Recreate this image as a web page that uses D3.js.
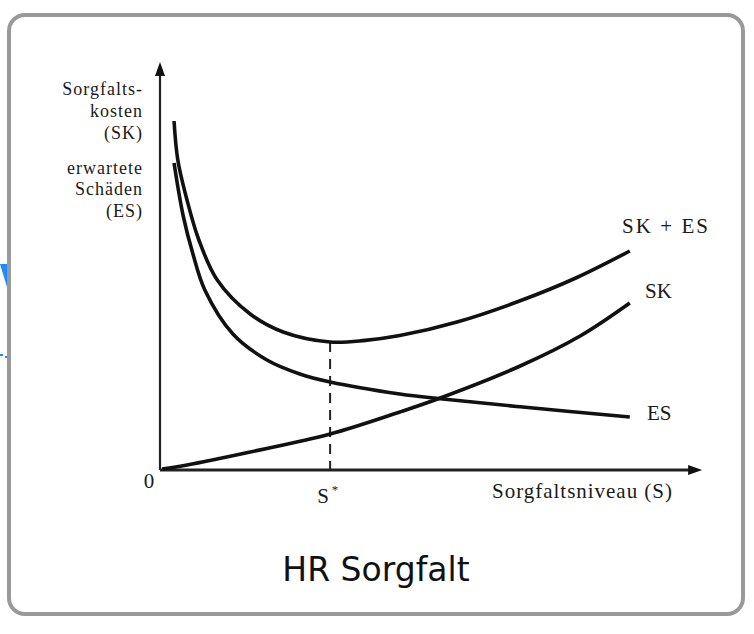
<!DOCTYPE html>
<html lang="de">
<head>
<meta charset="UTF-8">
<title>HR Sorgfalt</title>
<script src="https://d3js.org/d3.v7.min.js"></script>
<style>
    body { margin: 0; background: #fff; }
    .scan { font-family: "Liberation Serif", "DejaVu Serif", serif; font-size: 21px; fill: #1a1a1a; }
    .ylab { font-size: 18px; letter-spacing: 1px; }
</style>
</head>
<body>
<script>
    // Sorgfaltsniveau (S) on a 0..100 scale, costs on a 0..100 scale
    const sSK = [0.4, 5, 16.7, 31.5, 44.4, 51.9, 66.7, 77.8, 87];
    const valSK = [0.25, 1.25, 4.5, 9, 14.5, 18, 26, 33.5, 41.75];

    const sES = [2.6, 4.3, 6.1, 8.3, 13.5, 19.8, 25.9, 31.5, 44.4, 51.9, 66.7, 87];
    const valES = [76.75, 63.5, 54, 45, 34, 27.5, 24, 22, 19, 17.8, 15.8, 13.25];

    const sTotal = [2.6, 3.3, 5, 7.2, 10.6, 16.7, 22.8, 31.5, 38, 44.4, 55, 66.7, 77, 87];
    const valTotal = [87.25, 77.5, 67.5, 57.5, 47.5, 39, 34.5, 32, 32.4, 33.6, 37, 42.3, 48, 54.75];

    const sStar = 31.5;        // optimum S*
    const yLabel = ["Sorgfalts-", "kosten", "(SK)", "erwartete", "Schäden", "(ES)"];
    const yLabelBase = [95, 117, 139, 174, 195, 217];

    const width = 754, height = 634;

    const svg = d3.select("body").append("svg")
        .attr("width", width)
        .attr("height", height);

    // stray blue bits at the left edge
    svg.append("path")
        .attr("d", "M0,264 L7,264 L7,287 Z")
        .attr("fill", "#1a8cff");
    svg.append("path")
        .attr("d", "M0,355 L3,355 M5,357 L8,357")
        .attr("stroke", "#1a8cff")
        .attr("stroke-width", 2);

    // frame
    svg.append("rect")
        .attr("x", 9).attr("y", 15)
        .attr("width", 734).attr("height", 599)
        .attr("rx", 16)
        .attr("fill", "#fff")
        .attr("stroke", "#999")
        .attr("stroke-width", 4);

    let x = d3.scaleLinear().domain([0, 100]).range([160, 700]);
    let y = d3.scaleLinear().domain([0, 100]).range([470, 70]);

    let g = svg.append("g");

    // axes with arrow heads
    g.append("line")
        .attr("x1", x(0)).attr("y1", y(0))
        .attr("x2", x(0)).attr("y2", y(100) + 4)
        .attr("stroke", "#222").attr("stroke-width", 2.2);
    g.append("path")
        .attr("d", `M${x(0)},${y(102)} L${x(0) - 5},${y(98.5)} L${x(0) + 5},${y(98.5)} Z`)
        .attr("fill", "#111");

    g.append("line")
        .attr("x1", x(0)).attr("y1", y(0))
        .attr("x2", x(98)).attr("y2", y(0))
        .attr("stroke", "#222").attr("stroke-width", 3);
    g.append("path")
        .attr("d", `M${x(100.4)},${y(0)} L${x(97.8)},${y(0) - 5} L${x(97.8)},${y(0) + 5} Z`)
        .attr("fill", "#111");

    // dashed guide at S*
    let totalAtStar = valTotal[sTotal.indexOf(sStar)];
    g.append("line")
        .attr("x1", x(sStar)).attr("x2", x(sStar))
        .attr("y1", y(totalAtStar)).attr("y2", y(0))
        .attr("stroke", "#222")
        .attr("stroke-width", 2)
        .attr("stroke-dasharray", "10,7");

    let line = d3.line()
        .x(d => x(d[0]))
        .y(d => y(d[1]))
        .curve(d3.curveCatmullRom.alpha(0.5));

    let series = [
        d3.zip(sSK, valSK),
        d3.zip(sES, valES),
        d3.zip(sTotal, valTotal)
    ];

    g.selectAll(".curve")
        .data(series)
        .enter().append("path")
        .attr("class", "curve")
        .attr("d", line)
        .attr("fill", "none")
        .attr("stroke", "#111")
        .attr("stroke-width", 3.6);

    // texts from the scanned figure
    g.selectAll(".ylab")
        .data(yLabel)
        .enter().append("text")
        .attr("class", "scan ylab")
        .attr("x", 143)
        .attr("y", (d, i) => yLabelBase[i])
        .attr("text-anchor", "end")
        .text(d => d);

    g.append("text").attr("class", "scan")
        .attr("x", 149).attr("y", 488)
        .attr("text-anchor", "middle")
        .text("0");

    g.append("text").attr("class", "scan")
        .attr("x", 323).attr("y", 503)
        .attr("text-anchor", "middle")
        .text("S");
    g.append("text").attr("class", "scan")
        .attr("x", 335).attr("y", 494)
        .attr("text-anchor", "middle")
        .style("font-size", "13px")
        .text("*");

    g.append("text").attr("class", "scan")
        .attr("x", 492).attr("y", 498)
        .attr("textLength", 180)
        .text("Sorgfaltsniveau (S)");

    g.append("text").attr("class", "scan")
        .attr("x", 622).attr("y", 233)
        .attr("textLength", 86)
        .text("SK + ES");
    g.append("text").attr("class", "scan")
        .attr("x", 645).attr("y", 298)
        .text("SK");
    g.append("text").attr("class", "scan")
        .attr("x", 647).attr("y", 420)
        .text("ES");

    // caption
    svg.append("text")
        .attr("x", 376).attr("y", 581)
        .attr("text-anchor", "middle")
        .style("font-family", "'DejaVu Sans', sans-serif")
        .style("font-size", "33px")
        .style("fill", "#111")
        .text("HR Sorgfalt");
</script>
</body>
</html>
